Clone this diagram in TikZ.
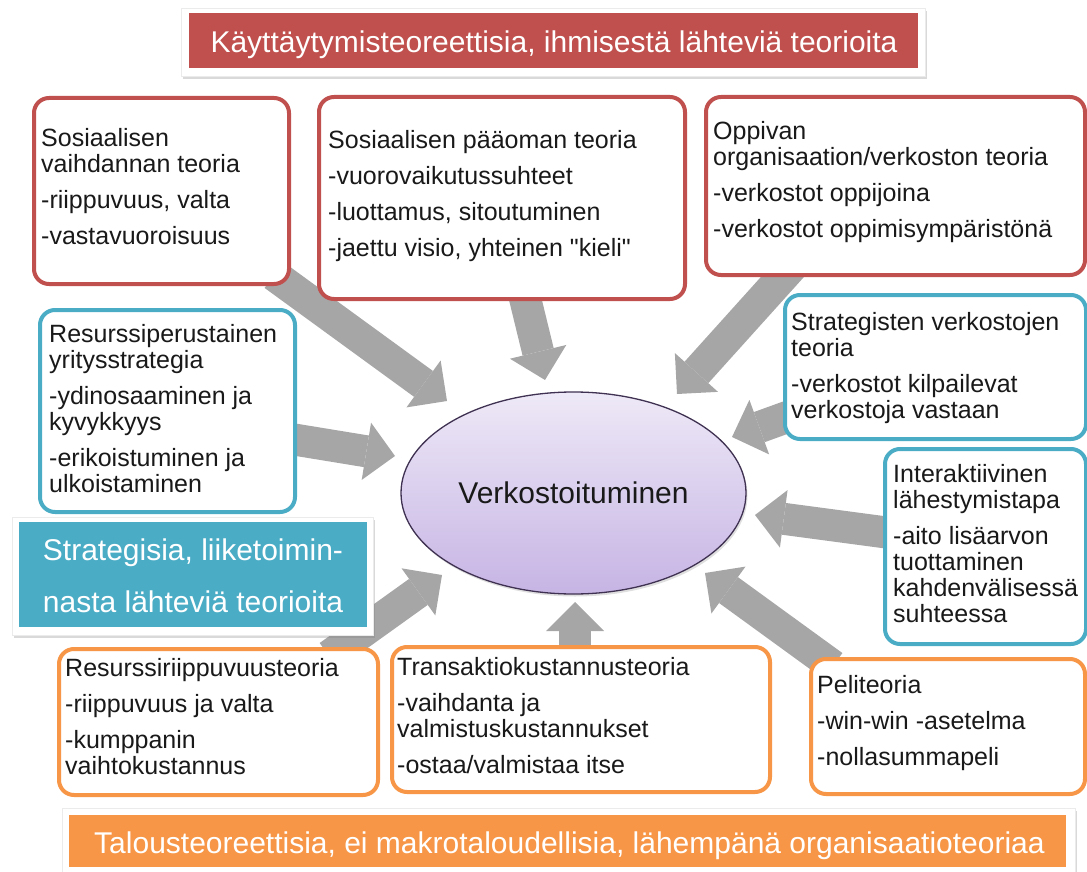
\documentclass[tikz,border=0pt]{standalone}
\usepackage{fontspec}
\setmainfont{Liberation Sans}[Ligatures=TeXOff]
\usetikzlibrary{shapes.geometric,arrows.meta,shadows}
\definecolor{cred}{HTML}{C0504D}
\definecolor{cblue}{HTML}{4BACC6}
\definecolor{corange}{HTML}{F79646}
\definecolor{cgray}{HTML}{A6A6A6}
\definecolor{celltop}{HTML}{EEE9F7}
\definecolor{cellbot}{HTML}{C6B4E4}
\definecolor{cellline}{HTML}{3F3151}
\newcommand\tstrut{\rule{0pt}{20pt}}
\begin{document}
\begin{tikzpicture}[x=1pt,y=-1pt,
  box/.style={draw, line width=4pt, rounded corners=15pt, fill=white, inner sep=0pt, anchor=north west},
  redbox/.style={box, draw=cred},
  bluebox/.style={box, draw=cblue},
  orangebox/.style={box, draw=corange},
  txt/.style={anchor=north west, inner sep=0pt, align=left, font=\fontsize{25}{26}\selectfont, text=black!90},
  whitebanner/.style={fill=white, draw=black!8, line width=0.6pt, inner sep=0pt, anchor=north west,
     drop shadow={shadow xshift=2pt, shadow yshift=-3pt, opacity=0.3}},
  fillbanner/.style={inner sep=0pt, anchor=north west},
  bantxt/.style={text=white, inner sep=0pt, font=\fontsize{30}{36}\selectfont},
  fat/.style={cgray, line width=32pt, -{Triangle[length=29pt,width=58pt,line width=0pt]}}
]
\useasboundingbox (0,0) rectangle (1087,872);

% arrow end points
\coordinate (s1) at (274,275);  \coordinate (e1) at (447,401);
\coordinate (s2) at (523,290);  \coordinate (e2) at (545,380);
\coordinate (s3) at (795,263);  \coordinate (e3) at (677,394);
\coordinate (s4) at (285,438);  \coordinate (e4) at (395,456);
\coordinate (s5) at (790,416);  \coordinate (e5) at (732,437);
\coordinate (s6) at (890,533);  \coordinate (e6) at (755,515);
\coordinate (s7) at (833,666);  \coordinate (e7) at (705,573);
\coordinate (s8) at (575,650);  \coordinate (e8) at (575,602);
\coordinate (s9) at (329,656);  \coordinate (e9) at (442,575);

\foreach \i in {1,...,9} { \draw[fat] (s\i) -- (e\i); }

% top banner
\node[whitebanner, minimum width=744pt, minimum height=68pt] (topw) at (181,8) {};
\node[fillbanner, fill=cred, minimum width=729pt, minimum height=55pt] (topr) at (189,13) {};
\node[bantxt, anchor=base] (toptxt) at (554,53) {Käyttäytymisteoreettisia, ihmisestä lähteviä teorioita};

% boxes
\node[redbox, minimum width=255pt, minimum height=186pt] (b1) at (32,96) {};
\node[txt] (t1) at (41,126) {\tstrut Sosiaalisen\\vaihdannan teoria\\[10pt]-riippuvuus, valta\\[10pt]-vastavuoroisuus};

\node[redbox, minimum width=366pt, minimum height=202pt] (b2) at (317,95) {};
\node[txt] (t2) at (328,128) {\tstrut Sosiaalisen pääoman teoria\\[10pt]-vuorovaikutussuhteet\\[10pt]-luottamus, sitoutuminen\\[10pt]-jaettu visio, yhteinen "kieli"};

\node[redbox, minimum width=379pt, minimum height=178pt] (b3) at (704,95) {};
\node[txt] (t3) at (713,119) {\tstrut Oppivan\\organisaation/verkoston teoria\\[10pt]-verkostot oppijoina\\[10pt]-verkostot oppimisympäristönä};

\node[bluebox, minimum width=255pt, minimum height=202pt] (b4) at (38,308) {};
\node[txt] (t4) at (49,322) {\tstrut Resurssiperustainen\\yritysstrategia\\[10pt]-ydinosaaminen ja\\kyvykkyys\\[10pt]-erikoistuminen ja\\ulkoistaminen};

\node[bluebox, minimum width=301pt, minimum height=144pt] (b5) at (783,293) {};
\node[txt] (t5) at (791,310) {\tstrut Strategisten verkostojen\\teoria\\[10pt]-verkostot kilpailevat\\verkostoja vastaan};

\node[bluebox, minimum width=201pt, minimum height=195pt] (b6) at (883,447) {};
\node[txt] (t6) at (893,462) {\tstrut Interaktiivinen\\lähestymistapa\\[10pt]-aito lisäarvon\\tuottaminen\\kahdenvälisessä\\suhteessa};

% strategic banner
\node[whitebanner, minimum width=361pt, minimum height=118pt] (midw) at (12,517) {};
\node[fillbanner, fill=cblue, minimum width=348pt, minimum height=105pt] (midb) at (19,522) {};
\node[bantxt, align=center, font=\fontsize{30}{52}\selectfont, anchor=north] (midtxt) at (193,536) {\rule{0pt}{24pt}Strategisia, liiketoimin-\\nasta lähteviä teorioita};

\node[orangebox, minimum width=319pt, minimum height=146pt] (b7) at (57,647) {};
\node[txt] (t7) at (65,656) {\tstrut Resurssiriippuvuusteoria\\[10pt]-riippuvuus ja valta\\[10pt]-kumppanin\\vaihtokustannus};

\node[orangebox, minimum width=378pt, minimum height=145pt] (b8) at (390,645) {};
\node[txt] (t8) at (397,655) {\tstrut Transaktiokustannusteoria\\[10pt]-vaihdanta ja\\valmistuskustannukset\\[10pt]-ostaa/valmistaa itse};

\node[orangebox, minimum width=274pt, minimum height=135pt] (b9) at (809,657) {};
\node[txt] (t9) at (817,673) {\tstrut Peliteoria\\[10pt]-win-win -asetelma\\[10pt]-nollasummapeli};

% bottom banner
\node[whitebanner, minimum width=1013pt, minimum height=72pt] (botw) at (62,808) {};
\node[fillbanner, fill=corange, minimum width=997pt, minimum height=52pt] (boto) at (69,815) {};
\node[bantxt, anchor=base] (bottxt) at (569.5,853) {Talousteoreettisia, ei makrotaloudellisia, lähempänä organisaatioteoriaa};

% centre
\node[ellipse, draw=cellline, line width=1.3pt, top color=celltop, bottom color=cellbot,
      minimum width=345pt, minimum height=202pt, inner sep=0pt,
      drop shadow={shadow xshift=1.5pt, shadow yshift=-2.5pt, opacity=0.25},
      font=\fontsize{30}{36}\selectfont, text=black!90] (ell) at (573.5,493) {Verkostoituminen};
\end{tikzpicture}
\end{document}
